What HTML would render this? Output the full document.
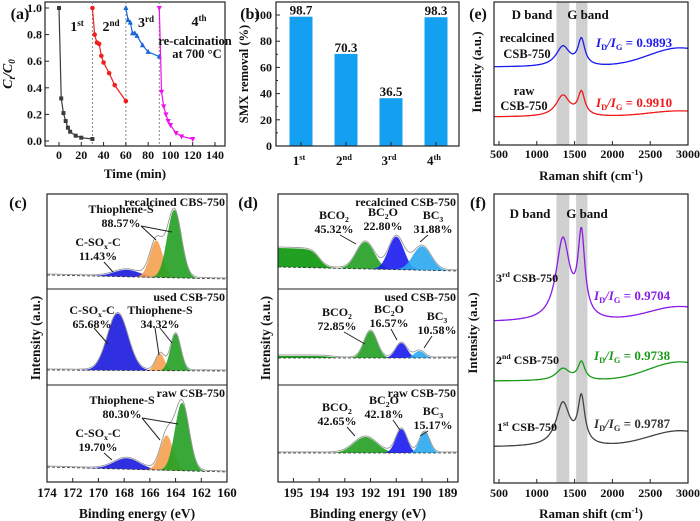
<!DOCTYPE html>
<html><head><meta charset="utf-8"><style>
html,body{margin:0;padding:0;background:#fff}
svg{display:block;font-family:"Liberation Serif",serif;font-weight:bold}
</style></head><body>
<svg id="fig" width="700" height="521" viewBox="0 0 700 521" xmlns="http://www.w3.org/2000/svg"></svg>
<script>
// ---------- Panel (a) data ----------
const a1T=[0,2,4,6,8,10,15,20,30], a1C=[1.0,0.32,0.21,0.15,0.10,0.07,0.04,0.025,0.015];
const a2T=[30,32,34,36,38,40,45,50,60], a2C=[1.0,0.80,0.74,0.73,0.64,0.59,0.51,0.42,0.30];
const a3T=[60,62,64,66,68,70,75,80,90], a3C=[1.0,0.91,0.89,0.81,0.81,0.79,0.72,0.67,0.635];
const a4T=[90,92,94,96,98,100,105,110,120], a4C=[1.0,0.37,0.26,0.20,0.15,0.12,0.06,0.035,0.015];
const aXTicks=[0,20,40,60,80,100,120,140], aYTicks=[0,0.2,0.4,0.6,0.8,1.0];
// ---------- Panel (b) data ----------
const bCats=["1","2","3","4"], bSup=["st","nd","rd","th"], bVals=[98.7,70.3,36.5,98.3];
const bYTicks=[0,20,40,60,80,100];
// ---------- Panel (c) XPS S2p: centers (eV), heights (a.u.), widths ----------
const cRecCenters=[167.8,165.5,164.1], cRecHeights=[7,37,68], cRecWidths=[1.0,0.5,0.55];
const cUsedCenters=[168.5,165.2,164.0], cUsedHeights=[57,17,37], cUsedWidths=[0.8,0.35,0.4];
const cRawCenters=[167.8,164.7,163.5], cRawHeights=[11,35,68], cRawWidths=[1.0,0.5,0.55];
const cXTicks=[174,172,170,168,166,164,162,160];
// ---------- Panel (d) XPS B1s ----------
const dRecCenters=[192.2,191.0,190.0], dRecHeights=[27,33,24], dRecWidths=[0.35,0.3,0.35], dRecStep=[194.0,19];
const dUsedCenters=[192.0,190.8,190.1], dUsedHeights=[27,15,7], dUsedWidths=[0.25,0.22,0.2], dUsedStep=[193.5,2];
const dRawCenters=[192.2,190.8,189.9], dRawHeights=[16,24,21], dRawWidths=[0.45,0.22,0.2], dRawStep=[194,0];
const dXTicks=[195,194,193,192,191,190,189];
// ---------- Panel (e),(f) Raman: [D height, G height, 2D bump height] ----------
const eBlue=[20,26,19], eRed=[21,23,6];
const f3rd=[81,81,15], f2nd=[12,18,19], f1st=[43,46,16];
const ramanXTicks=[500,1000,1500,2000,2500,3000];

const svg=document.getElementById('fig');
const NS="http://www.w3.org/2000/svg";
function mk(tag,attrs,name,parent){
  const el=document.createElementNS(NS,tag);
  for(const k in attrs) el.setAttribute(k,attrs[k]);
  
  
  (parent||svg).appendChild(el);return el;
}
function txt(x,y,s,name,opt){
  opt=opt||{};
  const t=mk('text',{x:x,y:y,'font-size':opt.size||13,'text-anchor':opt.anchor||'middle',fill:opt.fill||'#111'},name);
  if(opt.rot) t.setAttribute('transform','rotate(-90 '+x+' '+y+')');
  if(opt.italic) t.setAttribute('font-style','italic');
  t.textContent=s;return t;
}
function sup(t,main,s,kind){
  const a=document.createElementNS(NS,'tspan');a.textContent=main;t.appendChild(a);
  const b=document.createElementNS(NS,'tspan');b.textContent=s;
  b.setAttribute('font-size','0.65em');
  b.setAttribute('dy',kind==='sub'?'3':'-5');
  t.appendChild(b);
  return t;
}
function rich(x,y,parts,name,opt){
  const t=txt(x,y,'',name,opt);
  let shift=0;
  parts.forEach(p=>{
    const s=document.createElementNS(NS,'tspan');s.textContent=p[0];
    let dy=0;
    if(p[1]==='sup'){dy=-5-shift;shift=-5;s.setAttribute('font-size','0.65em');}
    else if(p[1]==='sub'){dy=3-shift;shift=3;s.setAttribute('font-size','0.65em');}
    else {dy=-shift;shift=0;}
    if(dy) s.setAttribute('dy',dy);
    if(p[2]) s.setAttribute('font-style','italic');
    t.appendChild(s);
  });
  return t;
}
function box(x1,y1,x2,y2,name){mk('rect',{x:x1,y:y1,width:x2-x1,height:y2-y1,fill:'none',stroke:'#222','stroke-width':1.2},name);}
function line(x1,y1,x2,y2,name,st){mk('line',Object.assign({x1:x1,y1:y1,x2:x2,y2:y2,stroke:'#222','stroke-width':1},st||{}),name);}

// ================= Panel (a) =================
const aX=t=>59+t*156/140, aY=c=>141-c*133;
txt(20,19,'(a)','panel-label-a',{size:16});
box(45,2,225,146,'plot-frame-a');
[30,60,90].forEach(t=>line(aX(t),2,aX(t),146,'cycle-divider',{stroke:'#888','stroke-dasharray':'2,2'}));
aXTicks.forEach(v=>{line(aX(v),146,aX(v),142,'x-tick-a');txt(aX(v),159,String(v),'x-tick-label-a',{size:12});});
aYTicks.forEach(v=>{line(45,aY(v),49,aY(v),'y-tick-a');txt(42,aY(v)+4,v.toFixed(1),'y-tick-label-a',{size:12,anchor:'end'});});
txt(135,178,'Time (min)','x-axis-title-a',{size:13});
rich(12,74,[['C',0,1],['t','sub',1],['/',0,1],['C',0,1],['0','sub',1]],'y-axis-title-a',{size:14,rot:1});
function aSeries(T,C,color,marker,name){
  mk('polyline',{points:T.map((t,i)=>aX(t)+','+aY(C[i])).join(' '),fill:'none',stroke:color,'stroke-width':1.2},name+'-line');
  T.forEach((t,i)=>{
    const x=aX(t),y=aY(C[i]);let p;
    if(marker==='sq') mk('rect',{x:x-2,y:y-2,width:4,height:4,fill:color},name+'-point');
    else if(marker==='ci') mk('circle',{cx:x,cy:y,r:2.3,fill:color},name+'-point');
    else if(marker==='up') mk('polygon',{points:`${x},${y-3} ${x-2.6},${y+2} ${x+2.6},${y+2}`,fill:color},name+'-point');
    else mk('polygon',{points:`${x},${y+3} ${x-2.6},${y-2} ${x+2.6},${y-2}`,fill:color},name+'-point');
  });
}
aSeries(a1T,a1C,'#3a3a3a','sq','series-1st');
aSeries(a2T,a2C,'#f02020','ci','series-2nd');
aSeries(a3T,a3C,'#1a66dd','up','series-3rd');
aSeries(a4T,a4C,'#ee10ee','dn','series-4th');
rich(77,31,[['1'],['st','sup']],'cycle-label-1st',{size:14});
rich(111,31,[['2'],['nd','sup']],'cycle-label-2nd',{size:14});
rich(146,27,[['3'],['rd','sup']],'cycle-label-3rd',{size:14});
rich(199,26,[['4'],['th','sup']],'cycle-label-4th',{size:14});
txt(195,45,'re-calcination','recalcination-note',{size:12.5});
txt(197,58,'at 700 °C','recalcination-temp',{size:12.5});

// ================= Panel (b) =================
const bY=v=>146-v*1.31, bX=i=>301+45*i;
txt(250,19,'(b)','panel-label-b',{size:16});
bVals.forEach((v,i)=>{
  mk('rect',{x:bX(i)-11.5,y:bY(v),width:23,height:bY(0)-bY(v),fill:'#14a0f0'},'bar-'+bCats[i]+bSup[i]);
  txt(bX(i),bY(v)-2,v.toFixed(1),'bar-value-label',{size:13});
  rich(bX(i)-2,165,[[bCats[i]],[bSup[i],'sup']],'x-tick-label-b',{size:13});
});
box(276,2,459,146,'plot-frame-b');
bYTicks.forEach(v=>{line(276,bY(v),280,bY(v),'y-tick-b');txt(272,bY(v)+4,String(v),'y-tick-label-b',{size:12,anchor:'end'});});
[10,30,50,70,90].forEach(v=>line(276,bY(v),278,bY(v),'y-minor-tick-b'));
bVals.forEach((v,i)=>line(bX(i),146,bX(i),142,'x-tick-b'));
txt(248,74,'SMX removal (%)','y-axis-title-b',{size:12.5,rot:1});

// ================= XPS helpers =================
const gauss=(x,c,s)=>Math.exp(-0.5*((x-c)/s)**2);
function xpsPanel(Xf,lo,hi,baseL,baseR,centers,heights,widths,colors,step,stepColor,name){
  const N=220, xs=[];
  for(let i=0;i<=N;i++) xs.push(hi-(hi-lo)*i/N);
  const base=x=>baseL+(baseR-baseL)*(hi-x)/(hi-lo);
  const env=xs.map(()=>0);
  if(step&&step[1]>0){
    const st=xs.map(x=>step[1]/(1+Math.exp(-(x-step[0])/0.15)));
    st.forEach((v,i)=>env[i]+=v);
    mk('polygon',{points:xs.map((x,i)=>Xf(x)+','+(base(x)-st[i])).concat(xs.slice().reverse().map(x=>Xf(x)+','+base(x))).join(' '),fill:stepColor},name+'-background-component');
  }
  centers.forEach((c,k)=>{
    const g=xs.map(x=>heights[k]*gauss(x,c,widths[k]));
    g.forEach((v,i)=>env[i]+=v);
    mk('polygon',{points:xs.map((x,i)=>Xf(x)+','+(base(x)-g[i])).concat(xs.slice().reverse().map(x=>Xf(x)+','+base(x))).join(' '),fill:colors[k],'fill-opacity':0.9},name+'-peak-'+k);
  });
  mk('polyline',{points:xs.map(x=>Xf(x)+','+base(x)).join(' '),fill:'none',stroke:'#333','stroke-dasharray':'3,2','stroke-width':0.8},name+'-baseline');
  mk('polyline',{points:xs.map((x,i)=>Xf(x)+','+(base(x)-env[i]-1)).join(' '),fill:'none',stroke:'#999','stroke-width':0.9},name+'-envelope');
}

// ================= Panel (c) =================
const cX=e=>47+(174-e)*180/14;
txt(18,208,'(c)','panel-label-c',{size:16});
const cCols=['#1a1add','#f5a050','#22a022'];
xpsPanel(cX,160,174,275,279,cRecCenters,cRecHeights,cRecWidths,cCols,null,null,'c-recalcined');
xpsPanel(cX,160,174,370,371,cUsedCenters,cUsedHeights,cUsedWidths,cCols,null,null,'c-used');
xpsPanel(cX,160,174,467,472,cRawCenters,cRawHeights,cRawWidths,cCols,null,null,'c-raw');
box(47,194,227,482,'plot-frame-c');
line(47,289,227,289,'subpanel-divider-c');line(47,385,227,385,'subpanel-divider-c');
cXTicks.forEach(v=>{line(cX(v),482,cX(v),478,'x-tick-c');txt(cX(v),497,String(v),'x-tick-label-c',{size:13});});
txt(137,518,'Binding energy (eV)','x-axis-title-c',{size:13.5});
txt(40,338,'Intensity (a.u.)','y-axis-title-c',{size:13.5,rot:1});
txt(225,206,'recalcined CBS-750','sample-label-c-recalcined',{size:12,anchor:'end'});
txt(225,301,'used CSB-750','sample-label-c-used',{size:12,anchor:'end'});
txt(225,397,'raw CSB-750','sample-label-c-raw',{size:12,anchor:'end'});
function ann(x,y,l1,pct,name,sx){const t=txt(x,y,'',name,{size:12});if(l1==='CSO'){sup(t,'C-SO','x','sub');const z=document.createElementNS(NS,'tspan');z.textContent='-C';z.setAttribute('dy','-3');t.appendChild(z);}else t.textContent=l1;txt(x,y+14,pct,name+'-pct',{size:12});}
ann(121,213,'Thiophene-S','88.57%','label-thiophene-rec');
line(141,226,156,240,'pointer');line(141,226,172,232,'pointer');
ann(98,246,'CSO','11.43%','label-csox-rec');line(104,262,113,272,'pointer');
ann(92,314,'CSO','65.68%','label-csox-used');line(94,328,108,344,'pointer');
ann(160,314,'Thiophene-S','34.32%','label-thiophene-used');line(155,328,159,355,'pointer');line(160,328,172,343,'pointer');
ann(122,404,'Thiophene-S','80.30%','label-thiophene-raw');line(142,418,160,440,'pointer');line(142,418,178,424,'pointer');
ann(98,437,'CSO','19.70%','label-csox-raw');line(104,453,112,460,'pointer');

// ================= Panel (d) =================
const dX=e=>278+(195.6-e)*25.7;
txt(248,208,'(d)','panel-label-d',{size:16});
const dCols=['#22a022','#1a1aee','#2aa8f0'];
xpsPanel(dX,188.6,195.6,267,271,dRecCenters,dRecHeights,dRecWidths,dCols,dRecStep,'#22a022','d-recalcined');
xpsPanel(dX,188.6,195.6,358,358,dUsedCenters,dUsedHeights,dUsedWidths,dCols,dUsedStep,'#22a022','d-used');
xpsPanel(dX,188.6,195.6,453,453,dRawCenters,dRawHeights,dRawWidths,dCols,dRawStep,'#22a022','d-raw');
box(278,194,458,482,'plot-frame-d');
line(278,289,458,289,'subpanel-divider-d');line(278,385,458,385,'subpanel-divider-d');
dXTicks.forEach(v=>{line(dX(v),482,dX(v),478,'x-tick-d');txt(dX(v),497,String(v),'x-tick-label-d',{size:13});});
txt(368,518,'Binding energy (eV)','x-axis-title-d',{size:13.5});
txt(270,338,'Intensity (a.u.)','y-axis-title-d',{size:13.5,rot:1});
txt(456,206,'recalcined CSB-750','sample-label-d-recalcined',{size:12,anchor:'end'});
txt(456,301,'used CSB-750','sample-label-d-used',{size:12,anchor:'end'});
txt(456,397,'raw CSB-750','sample-label-d-raw',{size:12,anchor:'end'});
function dl(x,y,m,s,pct,name){const t=txt(x,y,'',name,{size:12});sup(t,m,s,'sub');if(name.indexOf('bc2o')>=0){const z=document.createElementNS(NS,'tspan');z.textContent='O';z.setAttribute('dy','-3');t.appendChild(z);}txt(x,y+14,pct,name+'-pct',{size:12});}
dl(334,219,'BCO','2','45.32%','label-bco2-rec');line(340,235,356,244,'pointer');
dl(383,216,'BC','2','22.80%','label-bc2o-rec');
dl(433,219,'BC','3','31.88%','label-bc3-rec');line(428,235,420,242,'pointer');
dl(337,316,'BCO','2','72.85%','label-bco2-used');line(344,332,365,344,'pointer');
dl(389,313,'BC','2','16.57%','label-bc2o-used');line(391,329,397,340,'pointer');
dl(437,320,'BC','3','10.58%','label-bc3-used');line(432,336,424,348,'pointer');
dl(337,411,'BCO','2','42.65%','label-bco2-raw');line(347,427,355,436,'pointer');
dl(384,404,'BC','2','42.18%','label-bc2o-raw');line(393,420,400,430,'pointer');
dl(433,415,'BC','3','15.17%','label-bc3-raw');line(428,431,420,436,'pointer');

// ================= Raman helpers =================
const rX=s=>499+(s-500)*189/2500;
const lor=(x,c,w)=>1/(1+((x-c)/w)**2);
function raman(y0,p,color,name){
  const pts=[];
  for(let s=440;s<=3000;s+=8){
    const I=p[0]*lor(s,1345,110)+p[1]*lor(s,1590,55)+p[2]*gauss(s,2900,420);
    pts.push(rX(s)+','+(y0-I).toFixed(1));
  }
  mk('polyline',{points:pts.join(' '),fill:'none',stroke:color,'stroke-width':1.3},name);
}
function bands(y1,y2,name){
  mk('rect',{x:rX(1260),y:y1,width:rX(1430)-rX(1260),height:y2-y1,fill:'#d0d0d0'},name+'-d-band');
  mk('rect',{x:rX(1520),y:y1,width:rX(1670)-rX(1520),height:y2-y1,fill:'#d0d0d0'},name+'-g-band');
}
function idig(x,y,val,color,name){rich(x,y,[['I',0,1],['D','sub'],['/',0,1],['I',0,1],['G','sub'],[' = '+val]],name,{size:13,fill:color,anchor:'start'});}

// ================= Panel (e) =================
txt(478,19,'(e)','panel-label-e',{size:16});
bands(2,145,'e');
raman(67,eBlue,'#1a1af0','spectrum-recalcined');
raman(117,eRed,'#f01818','spectrum-raw');
box(494,2,688,145,'plot-frame-e');
ramanXTicks.forEach(v=>{line(rX(v),145,rX(v),141,'x-tick-e');txt(rX(v),158,String(v),'x-tick-label-e',{size:12});});
rich(591,180,[['Raman shift (cm'],['-1','sup'],[')']],'x-axis-title-e',{size:13});
txt(481,72,'Intensity (a.u.)','y-axis-title-e',{size:13,rot:1});
txt(532,19,'D band','d-band-label-e',{size:13});txt(588,19,'G band','g-band-label-e',{size:13});
txt(527,42,'recalcined','sample-label-recalcined-1',{size:12.5});txt(527,58,'CSB-750','sample-label-recalcined-2',{size:12.5});
txt(524,95,'raw','sample-label-raw-1',{size:12.5});txt(524,110,'CSB-750','sample-label-raw-2',{size:12.5});
idig(596,47,'0.9893','#1a1af0','ratio-recalcined');
idig(596,107,'0.9910','#f01818','ratio-raw');

// ================= Panel (f) =================
txt(478,208,'(f)','panel-label-f',{size:16});
bands(194,483,'f');
raman(322,f3rd,'#8a1ae8','spectrum-3rd');
raman(381,f2nd,'#1a9a1a','spectrum-2nd');
raman(447,f1st,'#444','spectrum-1st');
box(494,194,688,483,'plot-frame-f');
ramanXTicks.forEach(v=>{line(rX(v),483,rX(v),479,'x-tick-f');txt(rX(v),497,String(v),'x-tick-label-f',{size:12});});
rich(591,518,[['Raman shift (cm'],['-1','sup'],[')']],'x-axis-title-f',{size:13});
txt(477,333,'Intensity (a.u.)','y-axis-title-f',{size:13,rot:1});
txt(530,218,'D band','d-band-label-f',{size:13});txt(587,218,'G band','g-band-label-f',{size:13});
rich(496,282,[['3'],['rd','sup'],[' CSB-750']],'sample-label-3rd',{size:12,anchor:'start'});
rich(496,364,[['2'],['nd','sup'],[' CSB-750']],'sample-label-2nd',{size:12,anchor:'start'});
rich(497,431,[['1'],['st','sup'],[' CSB-750']],'sample-label-1st',{size:12,anchor:'start'});
idig(594,300,'0.9704','#8a1ae8','ratio-3rd');
idig(594,360,'0.9738','#1a9a1a','ratio-2nd');
idig(594,428,'0.9787','#333','ratio-1st');
</script>
</body></html>
